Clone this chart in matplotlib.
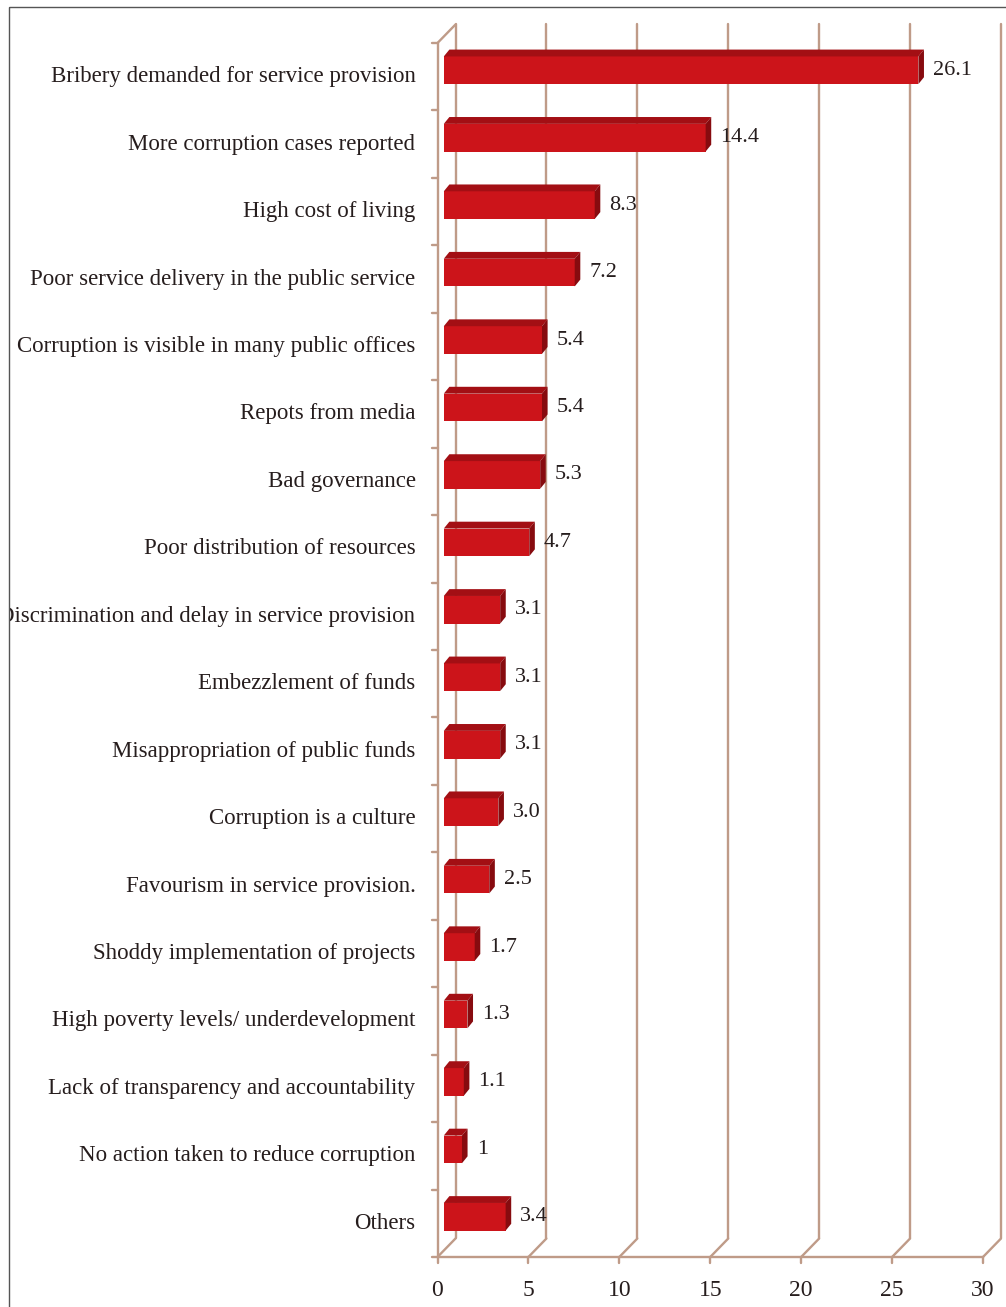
import matplotlib
matplotlib.use("Agg")
import matplotlib.pyplot as plt
from matplotlib.patches import Polygon, Rectangle
from matplotlib.transforms import Affine2D

# ---- data -------------------------------------------------------------
categories = [
    "Bribery demanded for service provision",
    "More corruption cases reported",
    "High cost of living",
    "Poor service delivery in the public service",
    "Corruption is visible in many public offices",
    "Repots from media",
    "Bad governance",
    "Poor distribution of resources",
    "Discrimination and delay in service provision",
    "Embezzlement of funds",
    "Misappropriation of public funds",
    "Corruption is a culture",
    "Favourism in service provision.",
    "Shoddy implementation of projects",
    "High poverty levels/ underdevelopment",
    "Lack of transparency and accountability",
    "No action taken to reduce corruption",
    "Others",
]
values = [26.1, 14.4, 8.3, 7.2, 5.4, 5.4, 5.3, 4.7, 3.1, 3.1, 3.1, 3.0,
          2.5, 1.7, 1.3, 1.1, 1, 3.4]
value_labels = ["26.1", "14.4", "8.3", "7.2", "5.4", "5.4", "5.3", "4.7",
                "3.1", "3.1", "3.1", "3.0", "2.5", "1.7", "1.3", "1.1",
                "1", "3.4"]
x_ticks = [0, 5, 10, 15, 20, 25, 30]

# ---- styling ------------------------------------------------------------
FONT = "Liberation Serif"
TEXT_C = "#261d1d"
GRID_C = "#bf9b88"
FRONT_C = "#cc141a"
TOP_C = "#a30f14"
SIDE_C = "#870b0f"

W, H = 1006, 1307
fig = plt.figure(figsize=(W / 100, H / 100), dpi=100)
fig.patch.set_facecolor("white")

# front plane of the 3-D box, in pixels
left_px, right_px = 437.5, 983.0
top_px, bottom_px = 43.0, 1257.0
ax = fig.add_axes([left_px / W, 1 - bottom_px / H,
                   (right_px - left_px) / W, (bottom_px - top_px) / H])
n = len(categories)
xmax = x_ticks[-1]
ax.set_xlim(0, xmax)
ax.set_ylim(n - 0.5, -0.5)
ax.axis("off")

sx = (right_px - left_px) / xmax      # px per x unit
sy = (bottom_px - top_px) / n         # px per category
WALL_DX, WALL_DY = 18.0, 18.5         # depth of the box in px (right, up)


def depth(fx, fy=None):
    if fy is None:
        fy = fx
    return fx * WALL_DX / sx, -fy * WALL_DY / sy


line_kw = dict(color=GRID_C, lw=1.7, clip_on=False, solid_capstyle="round")
wdx, wdy = depth(1.0)
ybot = n - 0.5
ytop = -0.5

# back wall gridlines and floor lines
for v in x_ticks:
    ax.plot([v + wdx, v + wdx], [ybot + wdy, ytop + wdy], **line_kw)
    ax.plot([v, v + wdx], [ybot, ybot + wdy], **line_kw)
    ax.plot([v, v], [ybot, ybot + 6 / sy], **line_kw)
    ax.text(v, ybot + 34 / sy, str(v), ha="center", va="center",
            fontsize=17, family=FONT, color=TEXT_C)

# front axes and left slant
ax.plot([0, xmax], [ybot, ybot], **line_kw)
ax.plot([0, 0], [ytop, ybot], **line_kw)
ax.plot([0, wdx], [ytop, ytop + wdy], **line_kw)
for k in range(n + 1):
    ax.plot([-6 / sx, 0], [k - 0.5, k - 0.5], **line_kw)

# bars
fdx, fdy = depth(0.35)
bdx, bdy = depth(0.66, 0.72)
h = 0.41
ax.barh([i + fdy for i in range(n)], values, height=h, left=fdx,
        color=FRONT_C, edgecolor="none", zorder=3, clip_on=False)
for i, v in enumerate(values):
    yt = i - h / 2
    yb = i + h / 2
    top = Polygon([(fdx, yt + fdy), (fdx + v, yt + fdy),
                   (bdx + v, yt + bdy), (bdx, yt + bdy)],
                  closed=True, fc=TOP_C, ec="none", zorder=3, clip_on=False)
    side = Polygon([(fdx + v, yt + fdy), (bdx + v, yt + bdy),
                    (bdx + v, yb + bdy), (fdx + v, yb + fdy)],
                   closed=True, fc=SIDE_C, ec="none", zorder=3, clip_on=False)
    ax.add_patch(top)
    ax.add_patch(side)
    ax.text(v + 21 / sx, i + fdy, value_labels[i], ha="left", va="center",
            fontsize=16, family=FONT, color=TEXT_C, zorder=4)

# outer frame (pixel coordinates, origin top-left)
px_tr = Affine2D().scale(1, -1).translate(0, H)
frame = Rectangle((9, 7), 1100, 1400, transform=px_tr, fill=False,
                  ec="#555555", lw=1.0)
fig.add_artist(frame)
clip_rect = Rectangle((10, 7), 1100, 1400, transform=px_tr)

# category labels
for i, cat in enumerate(categories):
    t = ax.text(-22 / sx, i, cat, ha="right", va="center", fontsize=16.5,
                family=FONT, color=TEXT_C, clip_on=True)
    t.set_clip_path(clip_rect)

fig.savefig("out.png", dpi=100, facecolor="white")
